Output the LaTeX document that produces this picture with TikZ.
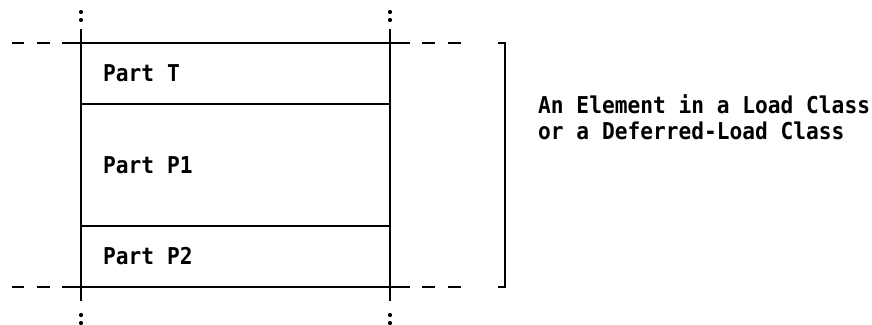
\documentclass[tikz,border=0pt]{standalone}
\usepackage{fontspec}
\setmonofont{DejaVu Sans Mono}
\newcommand{\mylbltext}[1]{\scalebox{1.06}[1.16]{#1}}
\begin{document}
\begin{tikzpicture}[x=1pt,y=-1pt,
  ln/.style={line width=1.4pt,black},
  dsh/.style={line width=1.4pt,black},
  dotmark/.style={fill=black,circle,inner sep=0pt,minimum size=4.2pt},
  lbl/.style={inner sep=0pt,anchor=west,font=\ttfamily\bfseries\fontsize{20}{26}\selectfont}]
\useasboundingbox (0,0) rectangle (872,324);
% verticals
\draw[ln] (81,29) -- (81,301);
\draw[ln] (390,29) -- (390,301);
% top and bottom lines with dashed extensions
\draw[ln] (62,43) -- (410,43);
\draw[ln] (62,287) -- (410,287);
\foreach \y in {43,287}{
  \draw[dsh] (12,\y) -- (24,\y);
  \draw[dsh] (37,\y) -- (50,\y);
  \draw[dsh] (422,\y) -- (435,\y);
  \draw[dsh] (448,\y) -- (461,\y);
}
% inner lines
\draw[ln] (81,104) -- (390,104);
\draw[ln] (81,226) -- (390,226);
% dots
\foreach \x in {81,390}{
  \node[dotmark] at (\x,12) {};
  \node[dotmark] at (\x,20) {};
  \node[dotmark] at (\x,315) {};
  \node[dotmark] at (\x,323) {};
}
% bracket
\draw[ln] (498,43) -- (505,43) -- (505,287) -- (498,287);
% labels
\node[lbl] (pt) at (103,73) {\mylbltext{Part T}};
\node[lbl] (pp1) at (103,165) {\mylbltext{Part P1}};
\node[lbl] (pp2) at (103,256) {\mylbltext{Part P2}};
\node[lbl] (t1) at (538,104.5) {\mylbltext{An Element in a Load Class}};
\node[lbl] (t2) at (538,131) {\mylbltext{or a Deferred-Load Class}};
\end{tikzpicture}
\end{document}
